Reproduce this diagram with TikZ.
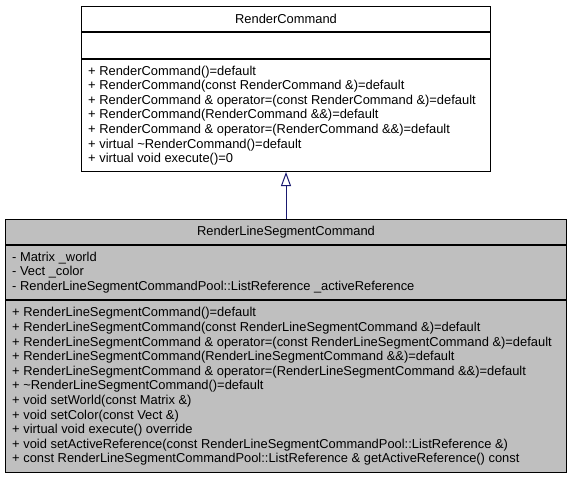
\documentclass[tikz,border=0pt]{standalone}
\usepackage{fontspec}
\setmainfont{Liberation Sans}
\usetikzlibrary{positioning,arrows.meta}
\definecolor{derivedgray}{HTML}{BFBFBF}
\definecolor{inheritblue}{HTML}{191970}

\begin{document}
\begin{tikzpicture}[x=1pt,y=-1pt,
	compart/.style={rectangle,draw=black,line width=1pt,inner sep=0pt,anchor=north west,
		font=\fontsize{12.9}{14.6}\selectfont},
	derived/.style={compart,fill=derivedgray},
	members/.style={inner xsep=7pt,inner ysep=0pt,align=left,
		font=\fontsize{12.9}{14.6}\selectfont},
	inherit/.style={draw=inheritblue,line width=1pt,
		-{Triangle[open,length=14pt,width=10pt,fill=white]}}]
	
	\useasboundingbox (0,0) rectangle (572,477);
	
	% base class
	\node[compart,minimum width=409,minimum height=25] (baseName) at (81,6) {RenderCommand};
	\node[compart,minimum width=409,minimum height=26] (baseAttr) at (baseName.south west) {};
	\node[compart,minimum width=409,minimum height=112] (baseOps) at (baseAttr.south west) {};
	\node[members,right=0pt of baseOps.west] (baseOpsText) {%
		+ RenderCommand()=default\\
		+ RenderCommand(const RenderCommand \&)=default\\
		+ RenderCommand \& operator=(const RenderCommand \&)=default\\
		+ RenderCommand(RenderCommand \&\&)=default\\
		+ RenderCommand \& operator=(RenderCommand \&\&)=default\\
		+ virtual \textasciitilde RenderCommand()=default\\
		+ virtual void execute()=0};
	
	% derived class
	\node[derived,minimum width=561,minimum height=25] (derivedName) at (5,219) {RenderLineSegmentCommand};
	\node[derived,minimum width=561,minimum height=54] (derivedAttr) at (derivedName.south west) {};
	\node[members,right=0pt of derivedAttr.west] (derivedAttrText) {%
		- Matrix \_world\\
		- Vect \_color\\
		- RenderLineSegmentCommandPool::ListReference \_activeReference};
	\node[derived,minimum width=561,minimum height=172] (derivedOps) at (derivedAttr.south west) {};
	\node[members,right=0pt of derivedOps.west] (derivedOpsText) {%
		+ RenderLineSegmentCommand()=default\\
		+ RenderLineSegmentCommand(const RenderLineSegmentCommand \&)=default\\
		+ RenderLineSegmentCommand \& operator=(const RenderLineSegmentCommand \&)=default\\
		+ RenderLineSegmentCommand(RenderLineSegmentCommand \&\&)=default\\
		+ RenderLineSegmentCommand \& operator=(RenderLineSegmentCommand \&\&)=default\\
		+ \textasciitilde RenderLineSegmentCommand()=default\\
		+ void setWorld(const Matrix \&)\\
		+ void setColor(const Vect \&)\\
		+ virtual void execute() override\\
		+ void setActiveReference(const RenderLineSegmentCommandPool::ListReference \&)\\
		+ const RenderLineSegmentCommandPool::ListReference \& getActiveReference() const};
	
	\draw[inherit] (derivedName.north) -- (baseOps.south);
	
\end{tikzpicture}
\end{document}
